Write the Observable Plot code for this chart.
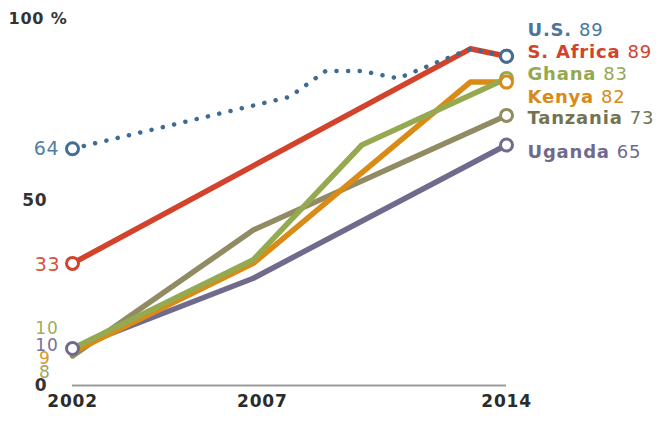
<!DOCTYPE html>
<html><head><meta charset="utf-8">
<script src="https://cdn.jsdelivr.net/npm/d3@7"></script>
<script src="https://cdn.jsdelivr.net/npm/@observablehq/plot@0.6"></script>
<style>
body{margin:0;background:#fff;}
#chart svg{font-family:"DejaVu Sans",sans-serif;background:#fff;}
#chart text{letter-spacing:0.8px;}
</style></head><body><div id="chart"></div>
<script>
// ---- data ----
const seriesNames = ["U.S.", "S. Africa", "Ghana", "Kenya", "Tanzania", "Uganda"];
const usYears = [2002, 2008, 2009, 2010, 2011, 2013, 2014];
const usValues = [64, 78, 85, 85, 83, 91, 89];
const southAfricaYears = [2002, 2013, 2014];
const southAfricaValues = [33, 91, 89];
const ghanaYears = [2002, 2007, 2010, 2014];
const ghanaValues = [10, 34, 65, 83];
const kenyaYears = [2002, 2007, 2013, 2014];
const kenyaValues = [9, 33, 82, 82];
const tanzaniaYears = [2002, 2007, 2014];
const tanzaniaValues = [8, 42, 73];
const ugandaYears = [2002, 2007, 2014];
const ugandaValues = [10, 29, 65];
const xTicks = [2002, 2007, 2014];
const yTicks = [0, 50, 100];
const yTickLabels = ["0", "50", "100 %"];

// ---- styling / layout ----
const colors = {"U.S.": "#4a79a3", "S. Africa": "#d3432c", "Ghana": "#95aa50", "Kenya": "#d98b16", "Tanzania": "#908b62", "Uganda": "#706b8d"};
const textColors = {"U.S.": "#4a77a0", "S. Africa": "#d3432c", "Ghana": "#94a94f", "Kenya": "#d98a18", "Tanzania": "#737352", "Uganda": "#6f6a8c"};
const leftTextColors = {"U.S.": "#4f7ea6", "S. Africa": "#d5553c", "Ghana": "#9fae5a", "Kenya": "#d8962c", "Tanzania": "#a2a45c", "Uganda": "#7670a0"};
const rightLabelY = {"U.S.": 96, "S. Africa": 90, "Ghana": 84, "Kenya": 78, "Tanzania": 72.2, "Uganda": 63};
const leftLabelY = {"U.S.": 64, "S. Africa": 32.5, "Ghana": 15.4, "Kenya": 7.3, "Tanzania": 3.6, "Uganda": 10.9};
const leftLabelDx = {"U.S.": -13, "S. Africa": -12, "Ghana": -14, "Kenya": -22, "Tanzania": -22, "Uganda": -14};
const startCircles = ["U.S.", "S. Africa", "Uganda"];

const seriesYears = [usYears, southAfricaYears, ghanaYears, kenyaYears, tanzaniaYears, ugandaYears];
const seriesValues = [usValues, southAfricaValues, ghanaValues, kenyaValues, tanzaniaValues, ugandaValues];
const rows = [];
seriesNames.forEach((name, i) => {
  seriesYears[i].forEach((yr, j) => rows.push({series: name, year: yr, value: seriesValues[i][j]}));
});
const firsts = seriesNames.map(n => rows.find(r => r.series === n));
const lasts = seriesNames.map(n => rows.filter(r => r.series === n).at(-1));

const ctx = document.createElement("canvas").getContext("2d");
function textWidth(s, weight, size, ls) {
  ctx.font = `${weight} ${size}px "DejaVu Sans"`;
  return ctx.measureText(s).width + ls * s.length;
}

const solidOrder = ["Uganda", "Tanzania", "Kenya", "Ghana", "S. Africa"];
const marks = [
  Plot.ruleY([0], {x1: 2002, x2: 2014, stroke: "#9a9a9a", strokeWidth: 2})
];
solidOrder.forEach(n => {
  marks.push(Plot.line(rows.filter(r => r.series === n), {x: "year", y: "value", stroke: colors[n], strokeWidth: 5.5, strokeLinejoin: "round"}));
});
marks.push(Plot.line(rows.filter(r => r.series === "U.S."), {x: "year", y: "value", stroke: "#3f6b91", strokeWidth: 4.5, strokeDasharray: "0.1,11.5", strokeLinecap: "round"}));

// circles
const circleRows = [
  ...firsts.filter(d => startCircles.includes(d.series)),
  ...["S. Africa", "Tanzania", "Uganda", "Ghana", "Kenya", "U.S."].map(n => lasts.find(d => d.series === n))
];
marks.push(Plot.dot(circleRows, {x: "year", y: "value", r: 6, fill: "white", stroke: d => d.series === "U.S." ? "#3f6f96" : colors[d.series], strokeWidth: 3}));

// left start labels
firsts.forEach(d => {
  const small = !["U.S.", "S. Africa"].includes(d.series);
  marks.push(Plot.text([d], {x: "year", y: () => leftLabelY[d.series], text: d => String(d.value), textAnchor: "end", dx: leftLabelDx[d.series], fill: leftTextColors[d.series], fontSize: small ? 17 : 19}));
});

// right end labels
const endOrder = ["U.S.", "S. Africa", "Ghana", "Kenya", "Tanzania", "Uganda"];
endOrder.forEach(n => {
  const d = lasts.find(r => r.series === n);
  const nameW = textWidth(n + " ", "bold", 18, 0.8);
  marks.push(Plot.text([d], {x: "year", y: () => rightLabelY[n], text: () => n, textAnchor: "start", dx: 21, fill: textColors[n], fontSize: 18, fontWeight: "bold"}));
  marks.push(Plot.text([d], {x: "year", y: () => rightLabelY[n], text: d => String(d.value), textAnchor: "start", dx: 21 + nameW, fill: textColors[n], fontSize: 18}));
});

// y tick labels
marks.push(Plot.text(yTicks.slice(0, 2), {x: 2002, y: d => d, text: (d, i) => yTickLabels[i], textAnchor: "end", dx: -25, fill: "#333", fontSize: 17, fontWeight: "bold"}));
marks.push(Plot.text([yTicks[2]], {x: 2002, y: d => d, text: () => yTickLabels[2], textAnchor: "start", dx: -64, dy: 3, fill: "#333", fontSize: 16, fontWeight: "bold"}));

// x tick labels
marks.push(Plot.text(xTicks.filter(t => t !== 2007), {x: d => d, frameAnchor: "bottom", dy: 21, text: d => String(d), fill: "#2b2b2b", fontSize: 17, fontWeight: "bold"}));
marks.push(Plot.text(xTicks.filter(t => t === 2007), {x: d => d, frameAnchor: "bottom", dy: 21, dx: 9, text: d => String(d), fill: "#2b2b2b", fontSize: 17, fontWeight: "bold"}));

const chart = Plot.plot({
  width: 669,
  height: 421,
  marginLeft: 72,
  marginRight: 163,
  marginTop: 15,
  marginBottom: 36,
  x: {domain: [2002, 2014], axis: null},
  y: {domain: [0, 100], axis: null},
  marks
});
document.getElementById("chart").append(chart);
</script>
</body></html>
